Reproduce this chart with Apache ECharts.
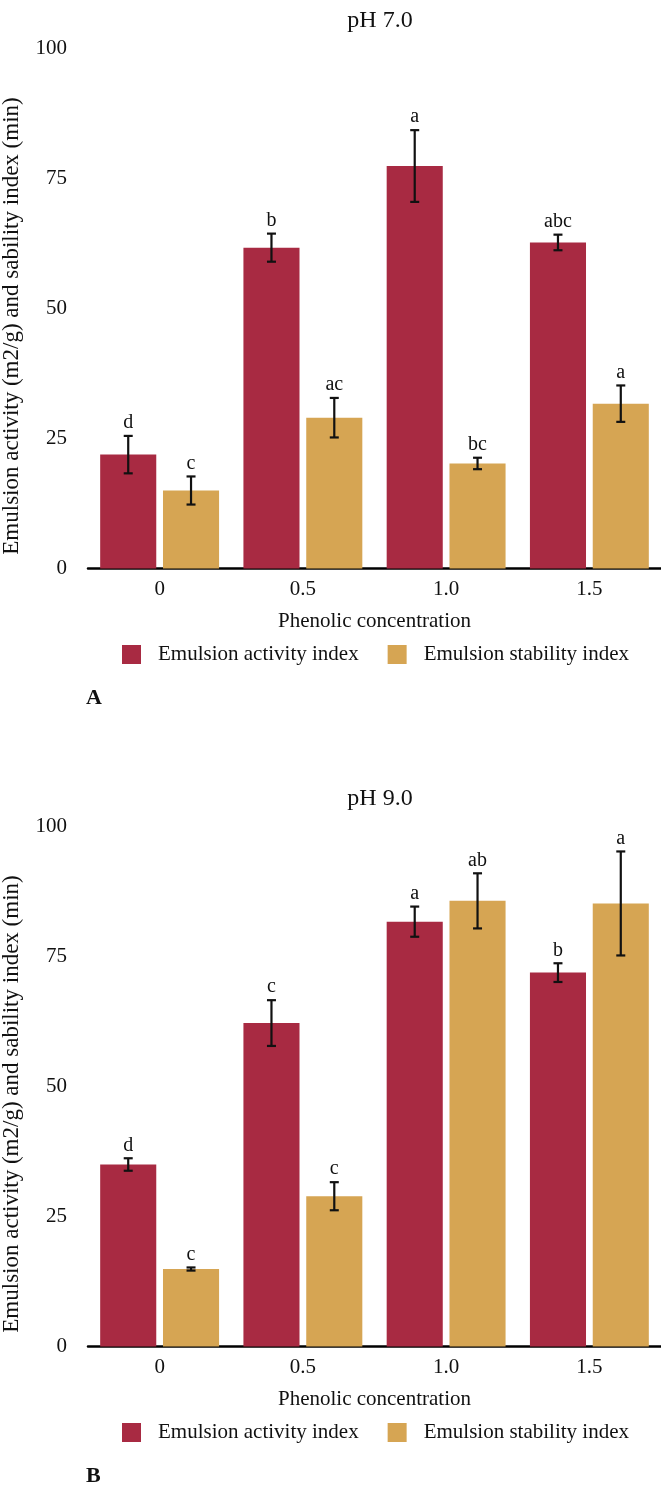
<!DOCTYPE html>
<html>
<head>
<meta charset="utf-8">
<script src="https://cdn.jsdelivr.net/npm/echarts@6/dist/echarts.min.js"></script>
<style>
html,body{margin:0;padding:0;background:#fff;}
#c{width:661px;height:1491px;}
</style>
</head>
<body>
<div id="c"></div>
<script>
// ---- data ----
const categories = ['0', '0.5', '1.0', '1.5'];
const yTicks = [0, 25, 50, 75, 100];
const seriesNames = ['Emulsion activity index', 'Emulsion stability index'];

// pH 7.0
const eaiA = [21.9, 61.7, 77.4, 62.7];
const eaiAErr = [3.6, 2.7, 6.9, 1.5];
const eaiALetters = ['d', 'b', 'a', 'abc'];
const esiA = [15.0, 29.0, 20.2, 31.7];
const esiAErr = [2.7, 3.8, 1.1, 3.5];
const esiALetters = ['c', 'ac', 'bc', 'a'];

// pH 9.0
const eaiB = [35.0, 62.2, 81.7, 71.9];
const eaiBErr = [1.2, 4.4, 2.9, 1.8];
const eaiBLetters = ['d', 'c', 'a', 'b'];
const esiB = [14.9, 28.9, 85.7, 85.2];
const esiBErr = [0.3, 2.7, 5.3, 10.0];
const esiBLetters = ['c', 'c', 'ab', 'a'];

const panelTitles = ['pH 7.0', 'pH 9.0'];
const panelLetters = ['A', 'B'];
const xName = 'Phenolic concentration';
const yName = 'Emulsion activity (m2/g) and sability index (min)';

// ---- styling ----
const FONT = '"Liberation Serif", "Times New Roman", serif';
const RED = '#a82a42';
const YEL = '#d6a553';
const BAR_CAT_GAP = '17%';
const BAR_GAP = '12%';
const OFF = 778; // vertical offset of panel B

const chart = echarts.init(document.getElementById('c'), null, {renderer: 'canvas'});

const grids = [
  {left: 88, right: 0, top: 48.5, height: 520},
  {left: 88, right: 0, top: 48.5 + OFF, height: 520}
];

function xAxisFor(i) {
  return {
    type: 'category', gridIndex: i, data: categories,
    axisLine: {lineStyle: {color: '#000', width: 2.5}},
    axisTick: {show: false},
    axisLabel: {color: '#111', fontFamily: FONT, fontSize: 21, margin: 10},
    name: xName, nameLocation: 'middle', nameGap: 42,
    nameTextStyle: {color: '#111', fontFamily: FONT, fontSize: 21}
  };
}
function yAxisFor(i) {
  return {
    type: 'value', gridIndex: i, min: 0, max: 100, interval: 25,
    axisLine: {show: false}, axisTick: {show: false},
    splitLine: {show: false},
    axisLabel: {color: '#111', fontFamily: FONT, fontSize: 21, margin: 21,
      formatter: v => yTicks.includes(v) ? String(v) : ''}
  };
}

function barSeries(name, data, color, i) {
  return {
    name: name, type: 'bar', xAxisIndex: i, yAxisIndex: i,
    data: data, barCategoryGap: BAR_CAT_GAP, barGap: BAR_GAP,
    itemStyle: {color: color}, silent: true
  };
}

// error bars with significance letters; offsetIdx 0 = first bar, 1 = second
function errSeries(vals, errs, letters, i, offsetIdx) {
  const data = vals.map((v, k) => [k, v, errs[k], letters[k]]);
  return {
    type: 'custom', xAxisIndex: i, yAxisIndex: i, silent: true, z: 10,
    data: data,
    renderItem: function (params, api) {
      const k = api.value(0);
      const v = api.value(1);
      const e = api.value(2);
      const bw = api.size([1, 0])[0];
      const catGap = parseFloat(BAR_CAT_GAP) / 100;
      const gap = parseFloat(BAR_GAP) / 100;
      const usable = bw * (1 - catGap);
      const barW = usable / (2 + gap);
      const base = api.coord([k, v]);
      const cx0 = base[0] - usable / 2 + barW / 2 + offsetIdx * (barW * (1 + gap));
      const top = api.coord([k, v + e])[1];
      const bot = api.coord([k, v - e])[1];
      const cap = 4.5;
      const st = {stroke: '#111', lineWidth: 2.2};
      return {
        type: 'group',
        children: [
          {type: 'line', shape: {x1: cx0, y1: top, x2: cx0, y2: bot}, style: st},
          {type: 'line', shape: {x1: cx0 - cap, y1: top, x2: cx0 + cap, y2: top}, style: st},
          {type: 'line', shape: {x1: cx0 - cap, y1: bot, x2: cx0 + cap, y2: bot}, style: st},
          {type: 'text', x: cx0, y: top - 3,
            style: {text: api.value(3), fill: '#111', font: '20px ' + FONT,
              textAlign: 'center', textVerticalAlign: 'bottom'}}
        ]
      };
    }
  };
}

const option = {
  animation: false,
  backgroundColor: '#fff',
  title: panelTitles.map((t, i) => ({
    text: t, left: 375, top: 4 + i * OFF, textAlign: 'center',
    textStyle: {fontFamily: FONT, fontSize: 24, fontWeight: 'normal', color: '#111'}
  })),
  legend: [0, 1].map(i => ({
    data: seriesNames.map(n => ({name: n})),
    left: 117, top: 639 + i * OFF,
    itemWidth: 19, itemHeight: 19, itemGap: 29,
    icon: 'rect',
    textStyle: {fontFamily: FONT, fontSize: 21, color: '#111', padding: [0, 0, 0, 12]},
    selectedMode: false
  })),
  grid: grids,
  xAxis: [xAxisFor(0), xAxisFor(1)],
  yAxis: [yAxisFor(0), yAxisFor(1)],
  graphic: [0, 1].map(i => ({
    type: 'text', x: 12, y: 326 + i * OFF, rotation: Math.PI / 2,
    style: {text: yName, font: '23px ' + FONT, fill: '#111', textAlign: 'center', textVerticalAlign: 'middle'}
  })).concat([0, 1].map(i => ({
    type: 'text', x: 86, y: 698 + i * OFF,
    style: {text: panelLetters[i], font: 'bold 22px ' + FONT, fill: '#111', textAlign: 'left', textVerticalAlign: 'middle'}
  }))),
  series: [
    barSeries(seriesNames[0], eaiA, RED, 0),
    barSeries(seriesNames[1], esiA, YEL, 0),
    errSeries(eaiA, eaiAErr, eaiALetters, 0, 0),
    errSeries(esiA, esiAErr, esiALetters, 0, 1),
    barSeries(seriesNames[0], eaiB, RED, 1),
    barSeries(seriesNames[1], esiB, YEL, 1),
    errSeries(eaiB, eaiBErr, eaiBLetters, 1, 0),
    errSeries(esiB, esiBErr, esiBLetters, 1, 1)
  ]
};
chart.setOption(option);
</script>
</body>
</html>
